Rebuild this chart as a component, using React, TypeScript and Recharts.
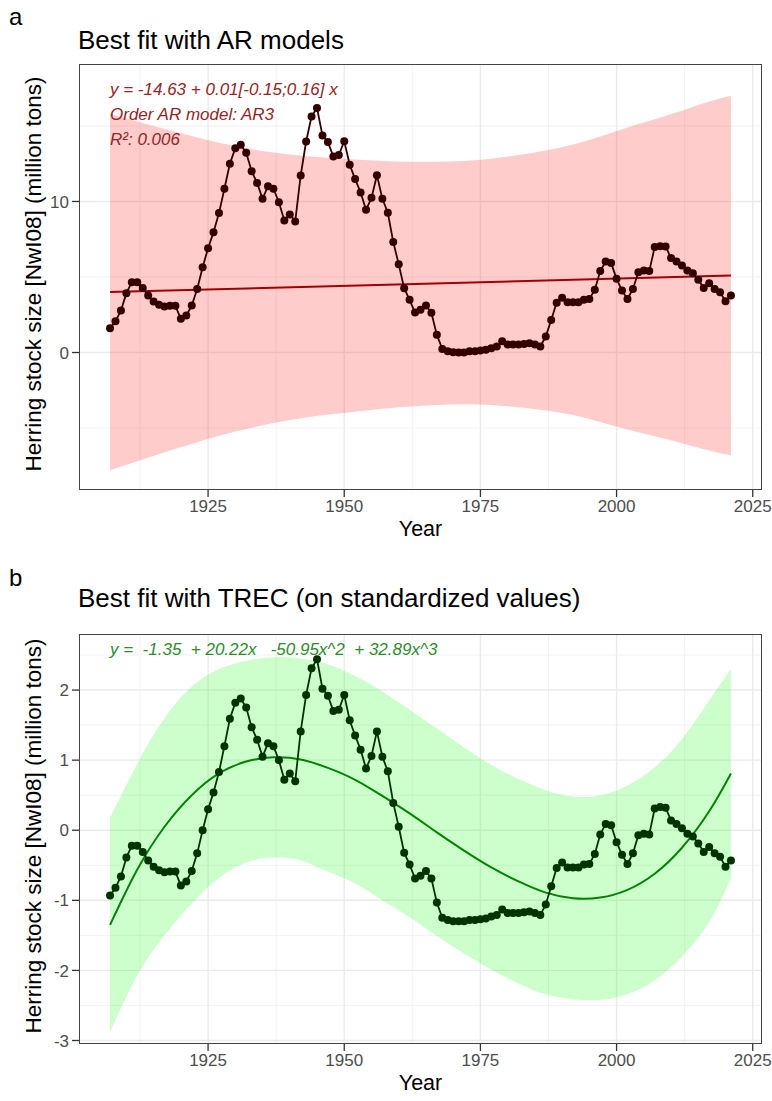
import React from "react";
import { Area, CartesianGrid, ComposedChart, Line, XAxis, YAxis } from "recharts";

// herring stock, one value per year from 1907 to 2021
const firstYear = 1907;
const stockMt = [
  1.61, 2.07, 2.78, 3.93, 4.66, 4.66, 4.28, 3.77, 3.38, 3.16,
  3.05, 3.09, 3.09, 2.23, 2.45, 3.11, 4.21, 5.65, 6.91, 7.97,
  9.23, 10.84, 12.5, 13.53, 13.75, 13.22, 12.0, 11.23, 10.18, 11.01,
  10.84, 9.95, 8.74, 9.14, 8.68, 11.72, 13.97, 15.63, 16.18, 14.37,
  13.93, 12.98, 13.07, 13.99, 12.43, 11.48, 10.6, 9.45, 10.24, 11.74,
  10.18, 9.25, 7.31, 5.85, 4.26, 3.49, 2.65, 2.83, 3.11, 2.63,
  1.17, 0.24, 0.09, 0.02, 0.0, 0.0, 0.09, 0.09, 0.13, 0.18,
  0.29, 0.4, 0.75, 0.53, 0.53, 0.53, 0.57, 0.62, 0.53, 0.4,
  1.06, 2.16, 3.29, 3.62, 3.33, 3.33, 3.33, 3.49, 3.55, 4.15,
  5.39, 6.03, 5.92, 4.88, 4.11, 3.55, 4.21, 5.32, 5.43, 5.39,
  6.98, 7.04, 7.02, 6.25, 6.03, 5.76, 5.43, 5.25, 4.81, 4.28,
  4.59, 4.21, 3.99, 3.4, 3.77,
];
const stockZ = [
  -0.93, -0.82, -0.66, -0.39, -0.22, -0.22, -0.31, -0.43, -0.52, -0.57,
  -0.6, -0.59, -0.59, -0.79, -0.73, -0.58, -0.33, 0.0, 0.3, 0.54,
  0.83, 1.2, 1.59, 1.82, 1.88, 1.75, 1.47, 1.29, 1.05, 1.24,
  1.2, 1.0, 0.72, 0.81, 0.7, 1.41, 1.93, 2.31, 2.44, 2.02,
  1.92, 1.7, 1.72, 1.93, 1.57, 1.35, 1.15, 0.88, 1.06, 1.41,
  1.05, 0.84, 0.39, 0.05, -0.32, -0.49, -0.69, -0.65, -0.58, -0.69,
  -1.03, -1.25, -1.28, -1.3, -1.3, -1.3, -1.28, -1.28, -1.27, -1.26,
  -1.23, -1.21, -1.13, -1.18, -1.18, -1.18, -1.17, -1.16, -1.18, -1.21,
  -1.06, -0.8, -0.54, -0.46, -0.53, -0.53, -0.53, -0.49, -0.48, -0.34,
  -0.06, 0.09, 0.07, -0.17, -0.35, -0.48, -0.33, -0.07, -0.05, -0.06,
  0.31, 0.33, 0.32, 0.14, 0.09, 0.03, -0.05, -0.09, -0.19, -0.31,
  -0.24, -0.33, -0.38, -0.52, -0.43,
];

// bands and fitted curves
const bandYears = [
  1907, 1912, 1917, 1922, 1927, 1932, 1937, 1942, 1947, 1952, 1957, 1962,
  1967, 1972, 1977, 1982, 1987, 1992, 1997, 2002, 2007, 2012, 2017, 2021,
];
const arLow = [
  -7.8, -7.2, -6.6, -6.06, -5.51, -5.06, -4.66, -4.36, -4.11, -3.92, -3.72, -3.57,
  -3.47, -3.42, -3.47, -3.63, -3.83, -4.13, -4.6, -5.1, -5.55, -6.0, -6.49, -6.8,
];
const arHigh = [
  15.8, 15.3, 14.8, 14.34, 13.89, 13.54, 13.24, 13.04, 12.89, 12.78, 12.68, 12.63,
  12.63, 12.68, 12.83, 13.07, 13.37, 13.77, 14.3, 14.9, 15.45, 16.01, 16.61, 17.0,
];
const trendYears = [1907, 2021];
const trendMt = [4.0, 5.1];
const trecLow = [
  -2.88, -2.07, -1.5, -1.04, -0.68, -0.46, -0.39, -0.43, -0.59, -0.76, -1.0, -1.24,
  -1.51, -1.76, -1.99, -2.19, -2.34, -2.41, -2.42, -2.34, -2.14, -1.8, -1.31, -0.68,
];
const trecHigh = [
  0.18, 0.95, 1.6, 2.05, 2.3, 2.42, 2.47, 2.45, 2.37, 2.2, 1.98, 1.72,
  1.45, 1.18, 0.93, 0.73, 0.57, 0.48, 0.5, 0.64, 0.9, 1.3, 1.85, 2.3,
];
const trecFit = [
  -1.35, -0.56, 0.05, 0.5, 0.81, 0.98, 1.04, 1.01, 0.89, 0.72, 0.49, 0.24,
  -0.03, -0.29, -0.53, -0.73, -0.89, -0.97, -0.96, -0.85, -0.62, -0.25, 0.27, 0.81,
];

const xMinor = [1912.5, 1937.5, 1962.5, 1987.5, 2012.5];
const xMajor = [1925, 1950, 1975, 2000, 2025];
const yMinorA = [-5, 5, 15];
const yMajorA = [0, 10];
const yMinorB = [-2.5, -1.5, -0.5, 0.5, 1.5, 2.5];
const yMajorB = [-3, -2, -1, 0, 1, 2];

const pointsA = stockMt.map((v, i) => ({ year: firstYear + i, v }));
const pointsB = stockZ.map((v, i) => ({ year: firstYear + i, v }));
const bandA = bandYears.map((year, i) => ({ year, band: [arLow[i], arHigh[i]] }));
const bandB = bandYears.map((year, i) => ({ year, band: [trecLow[i], trecHigh[i]], fit: trecFit[i] }));
const trendA = trendYears.map((year, i) => ({ year, v: trendMt[i] }));

const FONT = "'Liberation Sans', Arial, Helvetica, sans-serif";
const W = 772;
const PLOT_L = 79;
const PLOT_R = 762;

const yTick = (p: any) => (
  <g>
    <line x1={PLOT_L - 7} x2={PLOT_L} y1={p.y} y2={p.y} stroke="#333" strokeWidth={1.3} />
    <text x={PLOT_L - 10} y={p.y} dy="0.36em" textAnchor="end" fontSize={17} fill="#4d4d4d" fontFamily={FONT}>
      {p.payload.value}
    </text>
  </g>
);

const xTick = (bottom: number) => (p: any) => (
  <g>
    <line x1={p.x} x2={p.x} y1={bottom} y2={bottom + 7} stroke="#333" strokeWidth={1.3} />
    <text x={p.x} y={bottom + 10} dy="0.71em" textAnchor="middle" fontSize={17} fill="#4d4d4d" fontFamily={FONT}>
      {p.payload.value}
    </text>
  </g>
);

type PanelProps = {
  top: number;
  height: number;
  plotTop: number;
  plotBottom: number;
  domain: [number, number];
  yMinor: number[];
  yMajor: number[];
  tag: string;
  tagTop: number;
  title: string;
  titleTop: number;
  yTitleY: number;
  xTitleY: number;
  notes: { text: string; y: number }[];
  noteColor: string;
  children: React.ReactNode;
};

const Panel = (p: PanelProps) => (
  <div style={{ position: "absolute", left: 0, top: p.top, width: W, height: p.height, fontFamily: FONT }}>
    <ComposedChart
      width={W}
      height={p.height}
      margin={{ top: p.plotTop, right: W - PLOT_R, left: 0, bottom: p.height - p.plotBottom - 30 }}
    >
      <CartesianGrid stroke="#efefef" strokeWidth={0.8} horizontalValues={p.yMinor} verticalValues={xMinor} />
      <CartesianGrid stroke="#ebebeb" strokeWidth={1.4} horizontalValues={p.yMajor} verticalValues={xMajor} />
      <XAxis
        dataKey="year"
        type="number"
        domain={[1901.3, 2026.7]}
        ticks={xMajor}
        allowDataOverflow
        axisLine={false}
        tickLine={false}
        height={30}
        interval={0}
        tick={xTick(p.plotBottom)}
      />
      <YAxis
        type="number"
        domain={p.domain}
        ticks={p.yMajor}
        allowDataOverflow
        axisLine={false}
        tickLine={false}
        width={PLOT_L}
        interval={0}
        tick={yTick}
      />
      {p.children}
    </ComposedChart>
    <div
      style={{
        position: "absolute",
        left: PLOT_L,
        top: p.plotTop,
        width: PLOT_R - PLOT_L,
        height: p.plotBottom - p.plotTop,
        border: "1.5px solid #444",
        boxSizing: "border-box",
        pointerEvents: "none",
      }}
    />
    <div style={{ position: "absolute", left: 9, top: p.tagTop, fontSize: 24, lineHeight: 1 }}>{p.tag}</div>
    <div style={{ position: "absolute", left: 78, top: p.titleTop, fontSize: 26, lineHeight: 1, whiteSpace: "nowrap" }}>
      {p.title}
    </div>
    {p.notes.map((n) => (
      <div
        key={n.text}
        style={{
          position: "absolute",
          left: 110,
          top: n.y - 9,
          fontSize: 17,
          lineHeight: "18px",
          fontStyle: "italic",
          color: p.noteColor,
          whiteSpace: "pre",
        }}
      >
        {n.text}
      </div>
    ))}
    <div
      style={{
        position: "absolute",
        left: 34,
        top: p.yTitleY,
        fontSize: 22.5,
        lineHeight: 1,
        whiteSpace: "nowrap",
        transform: "translate(-50%, -50%) rotate(-90deg)",
      }}
    >
      Herring stock size [NwI08] (million tons)
    </div>
    <div
      style={{
        position: "absolute",
        left: (PLOT_L + PLOT_R) / 2,
        top: p.xTitleY,
        fontSize: 21.5,
        lineHeight: 1,
        transform: "translate(-50%, -50%)",
      }}
    >
      Year
    </div>
  </div>
);

const App = () => (
  <div style={{ position: "absolute", left: 0, top: 0, width: W, height: 1101, background: "#fff" }}>
    <Panel
      top={0}
      height={550}
      plotTop={64}
      plotBottom={490}
      domain={[-9.1, 19.1]}
      yMinor={yMinorA}
      yMajor={yMajorA}
      tag="a"
      tagTop={5}
      title="Best fit with AR models"
      titleTop={27}
      yTitleY={274}
      xTitleY={530}
      noteColor="#932525"
      notes={[
        { text: "y = -14.63 + 0.01[-0.15;0.16] x", y: 90 },
        { text: "Order AR model: AR3", y: 115 },
        { text: "R²: 0.006", y: 140 },
      ]}
    >
      <Area
        data={bandA}
        dataKey="band"
        type="natural"
        stroke="none"
        fill="#ff0000"
        fillOpacity={0.2}
        isAnimationActive={false}
        activeDot={false}
      />
      <Line
        data={trendA}
        dataKey="v"
        type="linear"
        stroke="#a20000"
        strokeWidth={2}
        dot={false}
        activeDot={false}
        isAnimationActive={false}
      />
      <Line
        data={pointsA}
        dataKey="v"
        type="linear"
        stroke="#330000"
        strokeWidth={1.8}
        dot={{ r: 4, fill: "#330000", stroke: "none" }}
        activeDot={false}
        isAnimationActive={false}
      />
    </Panel>
    <Panel
      top={550}
      height={551}
      plotTop={84}
      plotBottom={494}
      domain={[-3.05, 2.8]}
      yMinor={yMinorB}
      yMajor={yMajorB}
      tag="b"
      tagTop={16}
      title="Best fit with TREC (on standardized values)"
      titleTop={35}
      yTitleY={286}
      xTitleY={534}
      noteColor="#2e8b2e"
      notes={[{ text: "y =  -1.35  + 20.22x   -50.95x^2  + 32.89x^3", y: 100 }]}
    >
      <Area
        data={bandB}
        dataKey="band"
        type="natural"
        stroke="none"
        fill="#00ff00"
        fillOpacity={0.2}
        isAnimationActive={false}
        activeDot={false}
      />
      <Line
        data={bandB}
        dataKey="fit"
        type="natural"
        stroke="#008300"
        strokeWidth={2}
        dot={false}
        activeDot={false}
        isAnimationActive={false}
      />
      <Line
        data={pointsB}
        dataKey="v"
        type="linear"
        stroke="#003300"
        strokeWidth={1.8}
        dot={{ r: 4, fill: "#003300", stroke: "none" }}
        activeDot={false}
        isAnimationActive={false}
      />
    </Panel>
  </div>
);

export default App;
